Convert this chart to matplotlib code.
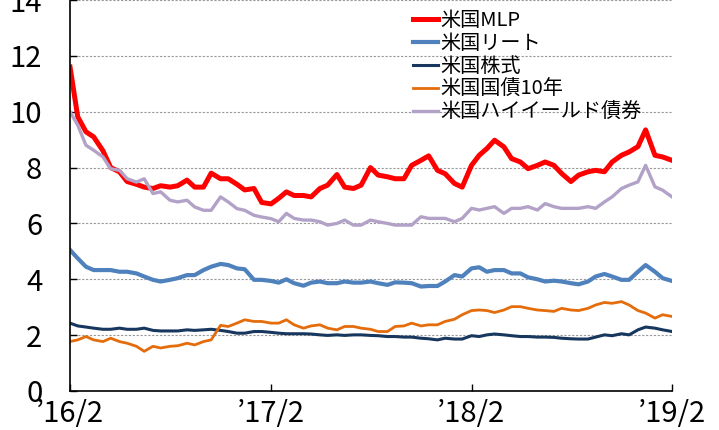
import numpy as np
import pandas as pd
import matplotlib
matplotlib.use('Agg')
import matplotlib.pyplot as plt

plt.rcParams['font.family'] = ['Noto Sans CJK JP', 'DejaVu Sans']

## data (semi-monthly) ##############################################
dates = pd.date_range('2016-02-01', '2019-02-01', freq='SMS')

mlp = [11.6, 9.82, 9.28, 9.1, 8.6, 8.0, 7.85, 7.5, 7.4, 7.3, 7.25, 7.35, 7.3,
       7.35, 7.55, 7.3, 7.3, 7.8, 7.6, 7.6, 7.4, 7.2, 7.25, 6.75, 6.7,
       6.9, 7.13, 7.0, 7.0, 6.95, 7.25, 7.37, 7.75, 7.3, 7.25, 7.37, 8.0,
       7.73, 7.67, 7.6, 7.6, 8.08, 8.26, 8.42, 7.9, 7.78, 7.43, 7.3, 8.08,
       8.44, 8.68, 8.98, 8.74, 8.32, 8.2, 7.96, 8.08, 8.2, 8.08, 7.79, 7.5,
       7.73, 7.85, 7.9, 7.85, 8.2, 8.44, 8.56, 8.75, 9.35, 8.44, 8.38, 8.26]
reit = [5.05, 4.75, 4.45, 4.33, 4.33, 4.33, 4.27, 4.27, 4.21, 4.1, 3.98, 3.92, 3.98,
        4.04, 4.15, 4.15, 4.33, 4.45, 4.55, 4.51, 4.39, 4.36, 3.98, 3.98, 3.94,
        3.88, 4.0, 3.86, 3.77, 3.88, 3.92, 3.86, 3.86, 3.92, 3.88, 3.88, 3.92,
        3.86, 3.8, 3.89, 3.88, 3.86, 3.74, 3.76, 3.76, 3.92, 4.15, 4.1, 4.39,
        4.43, 4.27, 4.33, 4.33, 4.21, 4.21, 4.07, 4.0, 3.92, 3.95, 3.92, 3.86,
        3.82, 3.92, 4.1, 4.19, 4.1, 3.98, 3.98, 4.27, 4.51, 4.27, 4.04, 3.94]
stocks = [2.43, 2.33, 2.29, 2.25, 2.21, 2.21, 2.25, 2.21, 2.21, 2.25, 2.17, 2.15, 2.15,
          2.15, 2.19, 2.17, 2.19, 2.21, 2.17, 2.13, 2.07, 2.07, 2.13, 2.13, 2.1,
          2.07, 2.05, 2.05, 2.05, 2.04, 2.01, 1.99, 2.01, 1.99, 2.01, 2.01, 1.99,
          1.98, 1.95, 1.95, 1.93, 1.93, 1.89, 1.87, 1.83, 1.89, 1.86, 1.86, 1.98,
          1.95, 2.01, 2.04, 2.01, 1.98, 1.95, 1.95, 1.93, 1.93, 1.92, 1.89, 1.87,
          1.86, 1.86, 1.93, 2.01, 1.98, 2.05, 2.01, 2.19, 2.29, 2.25, 2.19, 2.13]
ust10 = [1.77, 1.83, 1.95, 1.83, 1.77, 1.89, 1.77, 1.71, 1.6, 1.42, 1.6, 1.54, 1.6,
         1.62, 1.71, 1.65, 1.77, 1.83, 2.35, 2.31, 2.43, 2.55, 2.49, 2.49, 2.43,
         2.43, 2.55, 2.37, 2.25, 2.33, 2.37, 2.25, 2.19, 2.31, 2.31, 2.25, 2.21,
         2.13, 2.13, 2.31, 2.33, 2.43, 2.33, 2.37, 2.37, 2.49, 2.57, 2.73, 2.88,
         2.9, 2.88, 2.81, 2.9, 3.02, 3.02, 2.96, 2.9, 2.88, 2.85, 2.96, 2.9,
         2.88, 2.96, 3.08, 3.17, 3.14, 3.2, 3.08, 2.88, 2.79, 2.61, 2.73, 2.67]
hy = [10.0, 9.52, 8.8, 8.62, 8.38, 7.96, 7.9, 7.6, 7.48, 7.6, 7.07, 7.13, 6.83,
      6.77, 6.83, 6.59, 6.47, 6.47, 6.95, 6.77, 6.53, 6.47, 6.29, 6.23, 6.17,
      6.06, 6.36, 6.18, 6.12, 6.12, 6.06, 5.94, 6.0, 6.12, 5.94, 5.94, 6.12,
      6.06, 6.0, 5.94, 5.94, 5.94, 6.24, 6.18, 6.18, 6.18, 6.06, 6.18, 6.54,
      6.48, 6.54, 6.6, 6.36, 6.54, 6.54, 6.6, 6.48, 6.71, 6.6, 6.54, 6.54,
      6.54, 6.6, 6.54, 6.77, 6.95, 7.25, 7.37, 7.49, 8.08, 7.31, 7.19, 6.95]

labels = ['米国MLP', '米国リート', '米国株式', '米国国債10年', '米国ハイイールド債券']
tick_dates = pd.to_datetime(['2016-02-01', '2017-02-01', '2018-02-01', '2019-02-01'])
tick_labels = ['’16/2', '’17/2', '’18/2', '’19/2']
## ##################################################################

fig = plt.figure(figsize=(7.19, 4.30), dpi=100)
ax = fig.add_axes([0.0974, 0.0907, 0.8372, 0.9093])

series = [mlp, reit, stocks, ust10, hy]
colors = ['#FF0000', '#4F81BD', '#17375E', '#E46C0A', '#B3A2C7']
widths = [3.6, 3.0, 2.2, 2.0, 2.4]
for s, c, w, lab in zip(series, colors, widths, labels):
    ax.plot(dates, s, color=c, lw=w, label=lab, solid_joinstyle='round')

ax.set_xlim(tick_dates[0], tick_dates[-1])
ax.set_ylim(0, 14)
ax.set_yticks(np.arange(0, 15, 2))
ax.set_xticks(tick_dates)
ax.set_xticklabels(tick_labels)
ax.yaxis.grid(True, color='#999999', linestyle=(0, (2, 1.5)), lw=0.8)
ax.set_axisbelow(True)

for side in ['top', 'right']:
    ax.spines[side].set_visible(False)
ax.spines['left'].set_linewidth(1.2)
ax.spines['bottom'].set_linewidth(1.2)
ax.tick_params(axis='both', direction='in', length=5, width=1, labelsize=21)
ax.tick_params(axis='y', pad=20)
ax.tick_params(axis='x', pad=6)

leg = ax.legend(loc='upper left', bbox_to_anchor=(0.553, 1.0), frameon=False,
                fontsize=14.5, handlelength=1.25, handletextpad=0.1,
                labelspacing=0.1, borderaxespad=0.1)

fig.savefig('out.png', dpi=100)
